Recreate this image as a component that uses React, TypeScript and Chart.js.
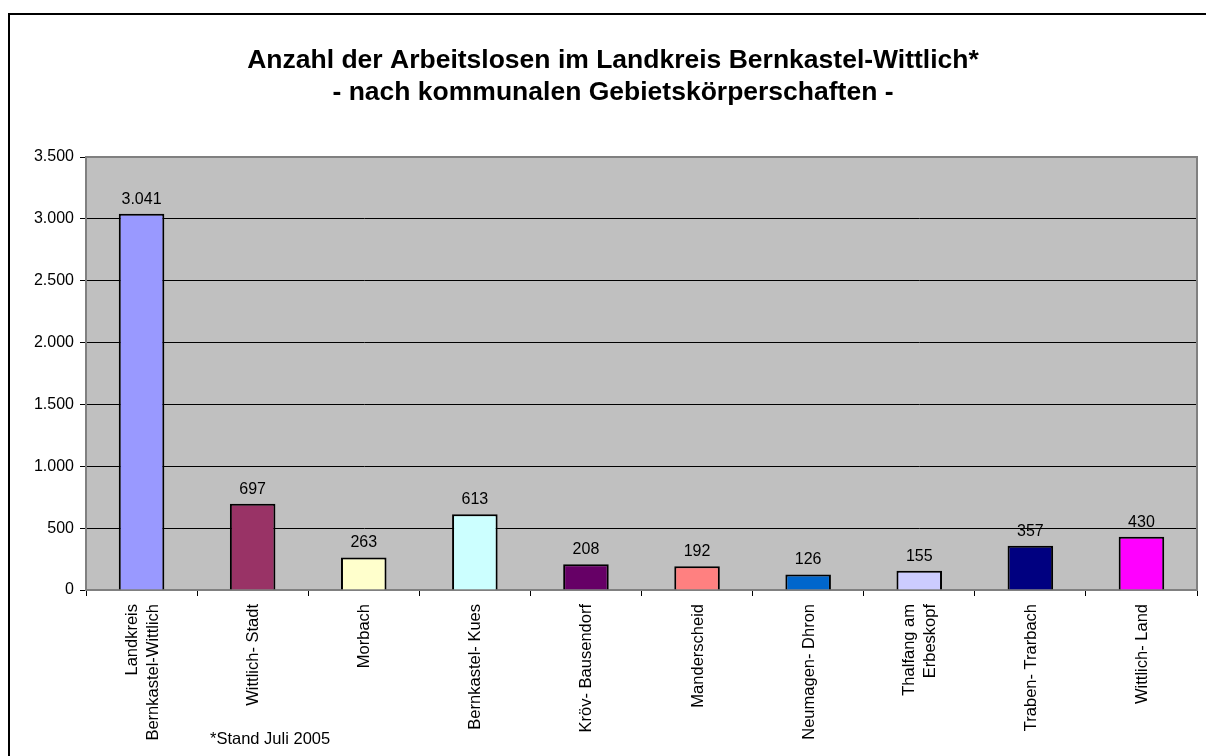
import { useEffect, useRef } from "react";
import { Chart, registerables } from "chart.js";
Chart.register(...registerables);

const categories: (string | string[])[] = [
  ["Landkreis", "Bernkastel-Wittlich"],
  "Wittlich- Stadt",
  "Morbach",
  "Bernkastel- Kues",
  "Kröv- Bausendorf",
  "Manderscheid",
  "Neumagen- Dhron",
  ["Thalfang am", "Erbeskopf"],
  "Traben- Trarbach",
  "Wittlich- Land",
];
const values = [3041, 697, 263, 613, 208, 192, 126, 155, 357, 430];
const barColors = [
  "#9999FF",
  "#993366",
  "#FFFFCC",
  "#CCFFFF",
  "#660066",
  "#FF8080",
  "#0066CC",
  "#CCCCFF",
  "#000080",
  "#FF00FF",
];
const titleLines = [
  "Anzahl der Arbeitslosen im Landkreis Bernkastel-Wittlich*",
  "- nach kommunalen Gebietskörperschaften -",
];
const footnote = "*Stand Juli 2005";
const yMin = 0;
const yMax = 3500;
const yStep = 500;

const FONT = "'Liberation Sans', Arial, sans-serif";
const fmt = (v: number) => v.toLocaleString("de-DE");

export default function App() {
  const ref = useRef<HTMLCanvasElement>(null);
  useEffect(() => {
    if (!ref.current) return;
    const decor = {
      id: "decor",
      beforeDraw(chart: any) {
        const { ctx, chartArea: a } = chart;
        ctx.save();
        ctx.fillStyle = "#FFFFFF";
        ctx.fillRect(0, 0, chart.width, chart.height);
        ctx.fillStyle = "#C0C0C0";
        ctx.fillRect(a.left, a.top, a.right - a.left, a.bottom - a.top);
        ctx.restore();
      },
      afterDraw(chart: any) {
        const { ctx, chartArea: a } = chart;
        ctx.save();
        ctx.strokeStyle = "#808080";
        ctx.lineWidth = 2;
        ctx.beginPath();
        ctx.moveTo(a.left, a.top);
        ctx.lineTo(a.right, a.top);
        ctx.lineTo(a.right, a.bottom);
        ctx.stroke();
        // outer frame
        ctx.strokeStyle = "#000000";
        ctx.lineWidth = 2;
        ctx.strokeRect(9, 14, 1400, 1000);
        // title
        ctx.fillStyle = "#000000";
        ctx.font = `bold 26.5px ${FONT}`;
        ctx.textAlign = "center";
        ctx.textBaseline = "alphabetic";
        titleLines.forEach((t, i) => {
          ctx.fillText(t, 613, 68 + i * 32);
        });
        // x labels
        const xs = chart.scales.x;
        ctx.font = `16.5px ${FONT}`;
        categories.forEach((lab, i) => {
          const lines = Array.isArray(lab) ? lab : [lab];
          const x = xs.getPixelForValue(i);
          ctx.save();
          ctx.translate(x, xs.top + 14);
          ctx.rotate(-Math.PI / 2);
          ctx.textAlign = "right";
          ctx.textBaseline = "middle";
          lines.forEach((l, j) => {
            ctx.fillText(l, 0, (j - (lines.length - 1) / 2) * 21 + 1);
          });
          ctx.restore();
        });
        // footnote
        ctx.font = `16.5px ${FONT}`;
        ctx.textAlign = "left";
        ctx.textBaseline = "alphabetic";
        ctx.fillText(footnote, 210, 744);
        ctx.restore();
      },
      afterDatasetsDraw(chart: any) {
        const { ctx } = chart;
        const meta = chart.getDatasetMeta(0);
        ctx.save();
        ctx.fillStyle = "#000000";
        ctx.font = `16px ${FONT}`;
        ctx.textAlign = "center";
        ctx.textBaseline = "alphabetic";
        meta.data.forEach((bar: any, i: number) => {
          ctx.fillText(fmt(values[i]), bar.x, bar.y - 10);
        });
        ctx.restore();
      },
    };
    const chart = new Chart(ref.current, {
      type: "bar",
      data: {
        labels: categories,
        datasets: [
          {
            data: values,
            backgroundColor: barColors,
            borderColor: "#000000",
            borderWidth: 2,
            categoryPercentage: 1,
            barPercentage: 0.41,
          },
        ],
      },
      options: {
        animation: false,
        responsive: false,
        maintainAspectRatio: false,
        layout: { padding: { left: 0, right: 9, top: 157, bottom: 0 } },
        plugins: {
          legend: { display: false },
          tooltip: { enabled: false },
          title: { display: false },
        },
        scales: {
          x: {
            grid: {
              offset: true,
              drawOnChartArea: false,
              drawTicks: true,
              tickLength: 6,
              color: "#000000",
            },
            border: { display: true, color: "#808080", width: 2 },
            ticks: { display: false },
            afterFit: (s: any) => {
              s.height = 166;
            },
          },
          y: {
            min: yMin,
            max: yMax,
            grid: {
              color: "#000000",
              lineWidth: 1,
              tickLength: 6,
              drawTicks: true,
            },
            border: { display: true, color: "#808080", width: 2 },
            ticks: {
              stepSize: yStep,
              padding: 6,
              color: "#000000",
              font: { family: FONT, size: 16 },
              callback: (v: any) => fmt(Number(v)),
            },
            afterFit: (s: any) => {
              s.width = 86;
            },
          },
        },
      },
      plugins: [decor],
    });
    return () => chart.destroy();
  }, []);
  return (
    <div style={{ position: "fixed", left: 0, top: 0, width: 1206, height: 756 }}>
      <canvas ref={ref} width={1206} height={756} style={{ display: "block" }} />
    </div>
  );
}
